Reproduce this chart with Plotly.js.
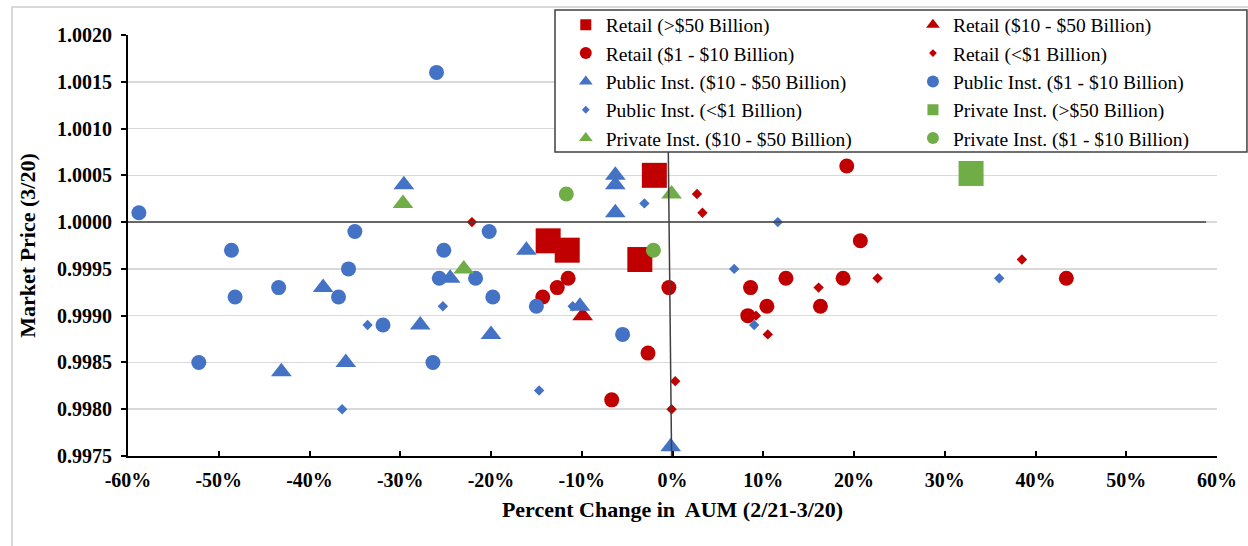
<!DOCTYPE html>
<html>
<head>
<meta charset="utf-8">
<script src="https://cdn.plot.ly/plotly-3.0.1.min.js"></script>
<style>
  html, body { margin: 0; padding: 0; background: #ffffff; }
  #chart { width: 1248px; height: 546px; }
</style>
</head>
<body>
<div id="chart"></div>
<script>
// Percent change in AUM (2/21-3/20), in percent, and market price on 3/20, by fund group
const retailOver50X = [-13.7, -11.6, -3.6, -2.0];
const retailOver50Y = [0.9998, 0.9997, 0.9996, 1.0005];

const retail10to50X = [-9.9];
const retail10to50Y = [0.9990];

const retail1to10X = [-14.3, -12.7, -11.5, -6.7, -2.7, -0.4, 8.3, 8.6, 10.4, 12.5, 16.3, 18.8, 19.2, 20.7, 43.4];
const retail1to10Y = [0.9992, 0.9993, 0.9994, 0.9981, 0.9986, 0.9993, 0.9990, 0.9993, 0.9991, 0.9994, 0.9991, 0.9994, 1.0006, 0.9998, 0.9994];

const retailUnder1X = [-22.1, -0.1, 0.3, 2.7, 3.3, 9.2, 10.5, 16.1, 22.6, 38.5];
const retailUnder1Y = [1.0000, 0.9980, 0.9983, 1.0003, 1.0001, 0.9990, 0.9988, 0.9993, 0.9994, 0.9996];

const public10to50X = [-43.1, -38.5, -36.0, -29.6, -27.8, -24.5, -20.0, -16.1, -10.2, -6.3, -6.3, -6.3, -0.2];
const public10to50Y = [0.9984, 0.9993, 0.9985, 1.0004, 0.9989, 0.9994, 0.9988, 0.9997, 0.9991, 1.0005, 1.0004, 1.0001, 0.9976];

const public1to10X = [-58.8, -52.2, -48.6, -48.2, -43.4, -36.8, -35.7, -35.0, -31.9, -26.4, -26.0, -25.7, -25.2, -21.7, -20.2, -19.8, -15.0, -5.5];
const public1to10Y = [1.0001, 0.9985, 0.9997, 0.9992, 0.9993, 0.9992, 0.9995, 0.9999, 0.9989, 0.9985, 1.0016, 0.9994, 0.9997, 0.9994, 0.9999, 0.9992, 0.9991, 0.9988];

const publicUnder1X = [-36.4, -33.6, -25.3, -14.7, -11.0, -3.1, 6.8, 9.0, 11.6, 36.0];
const publicUnder1Y = [0.9980, 0.9989, 0.9991, 0.9982, 0.9991, 1.0002, 0.9995, 0.9989, 1.0000, 0.9994];

const privateOver50X = [32.9];
const privateOver50Y = [1.00052];

const private10to50X = [-29.7, -23.0, -0.1];
const private10to50Y = [1.0002, 0.9995, 1.0003];

const private1to10X = [-11.7, -2.1];
const private1to10Y = [1.0003, 0.9997];

// Axis ticks
const xTickVals = [-60, -50, -40, -30, -20, -10, 0, 10, 20, 30, 40, 50, 60];
const xTickText = ['-60%', '-50%', '-40%', '-30%', '-20%', '-10%', '0%', '10%', '20%', '30%', '40%', '50%', '60%'];
const yTickVals = [0.9975, 0.9980, 0.9985, 0.9990, 0.9995, 1.0000, 1.0005, 1.0010, 1.0015, 1.0020];
const yTickText = ['0.9975', '0.9980', '0.9985', '0.9990', '0.9995', '1.0000', '1.0005', '1.0010', '1.0015', '1.0020'];

// Reference lines: par price and zero change
const parPrice = 1.0;
const zeroChange = 0;

const RED = '#C00000';
const BLUE = '#4472C4';
const GREEN = '#70AD47';
const SERIF = '"Liberation Serif", "Times New Roman", serif';

// name, x, y, color, symbol, plot size, legend size, legend column
const groups = [
  ['Retail (&gt;$50 Billion)', retailOver50X, retailOver50Y, RED, 'square', 25, 11, 'legend'],
  ['Retail ($10 - $50 Billion)', retail10to50X, retail10to50Y, RED, 'triangle-up', 18, 12, 'legend2'],
  ['Retail ($1 - $10 Billion)', retail1to10X, retail1to10Y, RED, 'circle', 15, 12, 'legend'],
  ['Retail (&lt;$1 Billion)', retailUnder1X, retailUnder1Y, RED, 'diamond', 8, 6, 'legend2'],
  ['Public Inst. ($10 - $50 Billion)', public10to50X, public10to50Y, BLUE, 'triangle-up', 18, 12, 'legend'],
  ['Public Inst. ($1 - $10 Billion)', public1to10X, public1to10Y, BLUE, 'circle', 15, 12, 'legend2'],
  ['Public Inst. (&lt;$1 Billion)', publicUnder1X, publicUnder1Y, BLUE, 'diamond', 8, 6, 'legend'],
  ['Private Inst. (&gt;$50 Billion)', privateOver50X, privateOver50Y, GREEN, 'square', 25, 11, 'legend2'],
  ['Private Inst. ($10 - $50 Billion)', private10to50X, private10to50Y, GREEN, 'triangle-up', 18, 12, 'legend'],
  ['Private Inst. ($1 - $10 Billion)', private1to10X, private1to10Y, GREEN, 'circle', 15, 12, 'legend2']
];

const traces = [];
groups.forEach(function (g) {
  traces.push({
    type: 'scatter', mode: 'markers', name: g[0], x: g[1], y: g[2],
    showlegend: false, cliponaxis: false,
    marker: { color: g[3], symbol: g[4], size: g[5], line: { width: 0 } }
  });
});
// Legend entries with compact symbols
groups.forEach(function (g) {
  traces.push({
    type: 'scatter', mode: 'markers', name: g[0], x: [null], y: [null],
    showlegend: true, legend: g[7], hoverinfo: 'skip',
    marker: { color: g[3], symbol: g[4], size: g[6], line: { width: 0 } }
  });
});

const legendFont = { family: SERIF, size: 19.5, color: '#000000' };

const layout = {
  width: 1248, height: 546,
  margin: { l: 128, r: 31, t: 35, b: 90, pad: 0, autoexpand: false },
  paper_bgcolor: '#ffffff', plot_bgcolor: '#ffffff',
  font: { family: SERIF, color: '#000000' },
  showlegend: true,
  xaxis: {
    range: [-60, 60], tickmode: 'array', tickvals: xTickVals, ticktext: xTickText,
    ticks: 'inside', ticklen: 5, tickwidth: 2, tickcolor: '#000000',
    showline: true, linewidth: 2, linecolor: '#000000',
    showgrid: false, zeroline: false, ticklabelstandoff: 5,
    tickfont: { family: SERIF, size: 20, weight: 700, color: '#000000' },
    title: { text: 'Percent Change in&nbsp; AUM (2/21-3/20)', standoff: 12,
             font: { family: SERIF, size: 22, weight: 700, color: '#000000' } }
  },
  yaxis: {
    range: [0.9975, 1.0020], tickmode: 'array', tickvals: yTickVals, ticktext: yTickText,
    ticks: 'outside', ticklen: 5, tickwidth: 2, tickcolor: '#000000',
    showline: true, linewidth: 2, linecolor: '#000000',
    showgrid: true, gridcolor: '#d9d9d9', gridwidth: 1.5, zeroline: false,
    ticklabelstandoff: 5,
    tickfont: { family: SERIF, size: 20, weight: 700, color: '#000000' },
    title: { text: 'Market Price (3/20)', standoff: 15,
             font: { family: SERIF, size: 22, weight: 700, color: '#000000' } }
  },
  legend: {
    x: 0.402, y: 1.070, xanchor: 'left', yanchor: 'top',
    bgcolor: 'rgba(0,0,0,0)', borderwidth: 0, font: legendFont,
    traceorder: 'normal', itemclick: false
  },
  legend2: {
    x: 0.7208, y: 1.070, xanchor: 'left', yanchor: 'top',
    bgcolor: 'rgba(0,0,0,0)', borderwidth: 0, font: legendFont,
    traceorder: 'normal', itemclick: false
  },
  shapes: [
    // chart area frame
    { type: 'rect', xref: 'paper', yref: 'paper', x0: -0.1065, x1: 1.5, y0: -0.5, y1: 1.0665,
      line: { color: '#d9d9d9', width: 2 }, fillcolor: 'rgba(0,0,0,0)', layer: 'below' },
    // par price line
    { type: 'line', xref: 'x', yref: 'y', x0: -60, x1: 58.8, y0: parPrice, y1: parPrice,
      line: { color: '#404040', width: 1.5 }, layer: 'above' },
    // zero change line
    { type: 'line', xref: 'x', yref: 'y', x0: zeroChange - 0.1, x1: zeroChange - 0.6, y0: 0.9975, y1: 1.0020,
      line: { color: '#404040', width: 1.5 }, layer: 'above' },
    // legend box
    { type: 'rect', xref: 'paper', yref: 'paper', x0: 0.3921, x1: 1.0275, y0: 0.7221, y1: 1.0594,
      line: { color: '#404040', width: 1.5 }, fillcolor: '#ffffff', layer: 'above' }
  ]
};

Plotly.newPlot('chart', traces, layout, { staticPlot: true, displayModeBar: false });
</script>
</body>
</html>
